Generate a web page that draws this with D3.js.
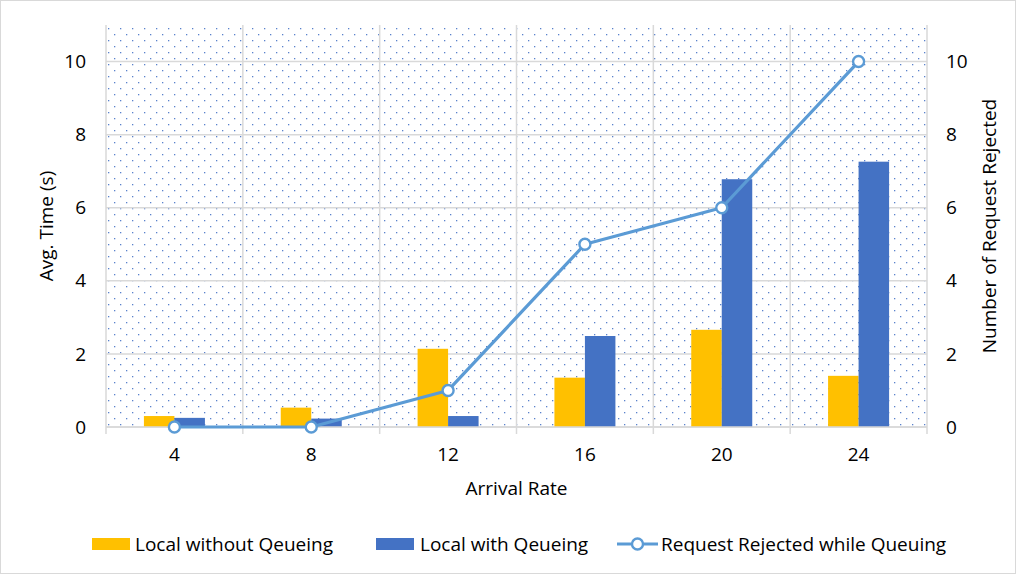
<!DOCTYPE html>
<html>
<head>
<meta charset="utf-8">
<script src="https://cdn.jsdelivr.net/npm/d3@7"></script>
<style>
  html, body { margin: 0; padding: 0; background: #fff; }
  svg text { font-family: "Open Sans", Lato, sans-serif; fill: #000; }
</style>
</head>
<body>
<svg id="chart" width="1016" height="574"></svg>
<script>
// Arrival rates on the category axis
const arrivalRates = ["4", "8", "12", "16", "20", "24"];
// Average time (s) per arrival rate
const localWithoutQueueing = [0.30, 0.53, 2.14, 1.35, 2.66, 1.40];
const localWithQueueing = [0.25, 0.23, 0.30, 2.49, 6.78, 7.26];
// Requests rejected while queuing (secondary axis)
const requestsRejected = [0, 0, 1, 5, 6, 10];
// Axis ticks
const leftTicks = [0, 2, 4, 6, 8, 10];
const rightTicks = [0, 2, 4, 6, 8, 10];

const seriesNames = ["Local without Qeueing", "Local with Qeueing", "Request Rejected while Queuing"];
const colors = { yellow: "#FFC000", blue: "#4472C4", line: "#5B9BD5", grid: "#D9D9D9" };

const svg = d3.select("#chart");
const W = 1016, H = 574;
const m = { left: 106, right: 1016 - 927, top: 25, bottom: 574 - 427 };
const pw = W - m.left - m.right, ph = H - m.top - m.bottom;

// Chart border
svg.append("rect").attr("x", 0.5).attr("y", 0.5).attr("width", W - 1).attr("height", H - 1)
  .attr("fill", "#fff").attr("stroke", "#D9D9D9");

// Dotted plot-area fill
const defs = svg.append("defs");
const pat = defs.append("pattern").attr("id", "dots").attr("patternUnits", "userSpaceOnUse")
  .attr("width", 12).attr("height", 12).attr("x", m.left + 4).attr("y", m.top + 2);
pat.append("rect").attr("x", 0).attr("y", 0).attr("width", 1.3).attr("height", 1.3).attr("fill", "#5a82cc");
pat.append("rect").attr("x", 6).attr("y", 6).attr("width", 1.3).attr("height", 1.3).attr("fill", "#5a82cc");

const g = svg.append("g").attr("transform", `translate(${m.left},${m.top})`);

const x = d3.scaleBand().domain(arrivalRates).range([0, pw]).padding(0);
const yL = d3.scaleLinear().domain([0, 11]).range([ph, 0]);
const yR = d3.scaleLinear().domain([0, 11]).range([ph, 0]);

g.append("rect").attr("width", pw).attr("height", ph).attr("fill", "url(#dots)");

// Horizontal gridlines
g.append("g").selectAll("line").data(leftTicks).join("line")
  .attr("x1", 0).attr("x2", pw).attr("y1", d => yL(d)).attr("y2", d => yL(d))
  .attr("stroke", colors.grid).attr("stroke-width", 1.5);

// Vertical gridlines at category boundaries
const bounds = arrivalRates.map(d => x(d)).concat([pw]);
g.append("g").selectAll("line").data(bounds).join("line")
  .attr("x1", d => d).attr("x2", d => d).attr("y1", 0).attr("y2", ph)
  .attr("stroke", colors.grid).attr("stroke-width", 1.5);

// Bars
const barW = 30.5;
const cx = d => x(d) + x.bandwidth() / 2;
g.append("g").selectAll("rect").data(arrivalRates).join("rect")
  .attr("x", d => cx(d) - barW).attr("width", barW)
  .attr("y", (d, i) => yL(localWithoutQueueing[i]))
  .attr("height", (d, i) => ph - yL(localWithoutQueueing[i]))
  .attr("fill", colors.yellow);
g.append("g").selectAll("rect").data(arrivalRates).join("rect")
  .attr("x", d => cx(d)).attr("width", barW)
  .attr("y", (d, i) => yL(localWithQueueing[i]))
  .attr("height", (d, i) => ph - yL(localWithQueueing[i]))
  .attr("fill", colors.blue);

// Bottom axis line
g.append("line").attr("x1", 0).attr("x2", pw).attr("y1", ph).attr("y2", ph)
  .attr("stroke", colors.grid).attr("stroke-width", 1.5);
// Tick marks below the axis at category boundaries
g.append("g").selectAll("line").data(bounds).join("line")
  .attr("x1", d => d).attr("x2", d => d).attr("y1", ph).attr("y2", ph + 7)
  .attr("stroke", colors.grid).attr("stroke-width", 1.5);

// Rejected requests line
const line = d3.line().x(d => cx(d.k)).y(d => yR(d.v));
const pts = arrivalRates.map((k, i) => ({ k, v: requestsRejected[i] }));
g.append("path").datum(pts).attr("d", line).attr("fill", "none")
  .attr("stroke", colors.line).attr("stroke-width", 3.2).attr("stroke-linejoin", "round");
g.append("g").selectAll("circle").data(pts).join("circle")
  .attr("cx", d => cx(d.k)).attr("cy", d => yR(d.v)).attr("r", 5.5)
  .attr("fill", "#fff").attr("stroke", colors.line).attr("stroke-width", 2.4);

// Axis labels
const fs = 19;
g.append("g").selectAll("text").data(leftTicks).join("text")
  .attr("x", -20).attr("y", d => yL(d)).attr("dy", "0.35em").attr("text-anchor", "end")
  .attr("font-size", fs).text(d => d);
g.append("g").selectAll("text").data(rightTicks).join("text")
  .attr("x", pw + 19).attr("y", d => yR(d)).attr("dy", "0.35em").attr("text-anchor", "start")
  .attr("font-size", fs).text(d => d);
g.append("g").selectAll("text").data(arrivalRates).join("text")
  .attr("x", d => cx(d)).attr("y", ph + 27).attr("dy", "0.35em").attr("text-anchor", "middle")
  .attr("font-size", fs).text(d => d);

// Axis titles
g.append("text").attr("x", pw / 2).attr("y", ph + 61).attr("dy", "0.35em")
  .attr("text-anchor", "middle").attr("font-size", fs).text("Arrival Rate");
svg.append("text").attr("transform", `translate(46,${m.top + ph / 2}) rotate(-90)`)
  .attr("dy", "0.35em").attr("text-anchor", "middle").attr("font-size", fs).text("Avg. Time (s)");
svg.append("text").attr("transform", `translate(989,${m.top + ph / 2}) rotate(-90)`)
  .attr("dy", "0.35em").attr("text-anchor", "middle").attr("font-size", fs).text("Number of Request Rejected");

// Legend
const ly = 544;
const leg = svg.append("g");
leg.append("rect").attr("x", 92).attr("y", ly - 6).attr("width", 38).attr("height", 12).attr("fill", colors.yellow);
leg.append("text").attr("x", 135).attr("y", ly).attr("dy", "0.35em").attr("font-size", fs).text(seriesNames[0]);
leg.append("rect").attr("x", 376).attr("y", ly - 6).attr("width", 38).attr("height", 12).attr("fill", colors.blue);
leg.append("text").attr("x", 420).attr("y", ly).attr("dy", "0.35em").attr("font-size", fs).text(seriesNames[1]);
leg.append("line").attr("x1", 617).attr("x2", 658).attr("y1", ly).attr("y2", ly)
  .attr("stroke", colors.line).attr("stroke-width", 3.2);
leg.append("circle").attr("cx", 637.5).attr("cy", ly).attr("r", 5.5)
  .attr("fill", "#fff").attr("stroke", colors.line).attr("stroke-width", 2.4);
leg.append("text").attr("x", 661).attr("y", ly).attr("dy", "0.35em").attr("font-size", fs).text(seriesNames[2]);
</script>
</body>
</html>
